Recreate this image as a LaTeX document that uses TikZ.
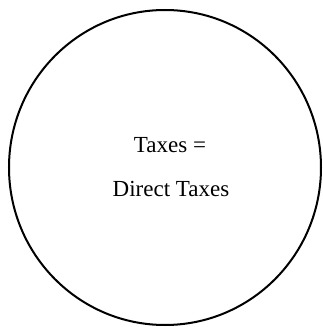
\documentclass[tikz,border=0pt]{standalone}
\usepackage{fontspec}
\setmainfont{Liberation Serif}
\usetikzlibrary{positioning, shapes.geometric}
\tikzset{
  every picture/.style={line width=2pt},
  ring/.style={draw=black, ellipse, minimum width=312pt, minimum height=315pt, inner sep=0pt},
  label/.style={font=\fontsize{23}{27}\selectfont, anchor=base, inner sep=0pt},
}
\begin{document}
\begin{tikzpicture}[x=1pt, y=1pt]
  \useasboundingbox (0,0) rectangle (322,327);
  % the whole set
  \node[ring] (taxset) at (165,159.5) {};
  \node[label] (taxes) at (170,174) {Taxes =};
  \node[label] (direct) at (171,130) {Direct Taxes};
\end{tikzpicture}
\end{document}
